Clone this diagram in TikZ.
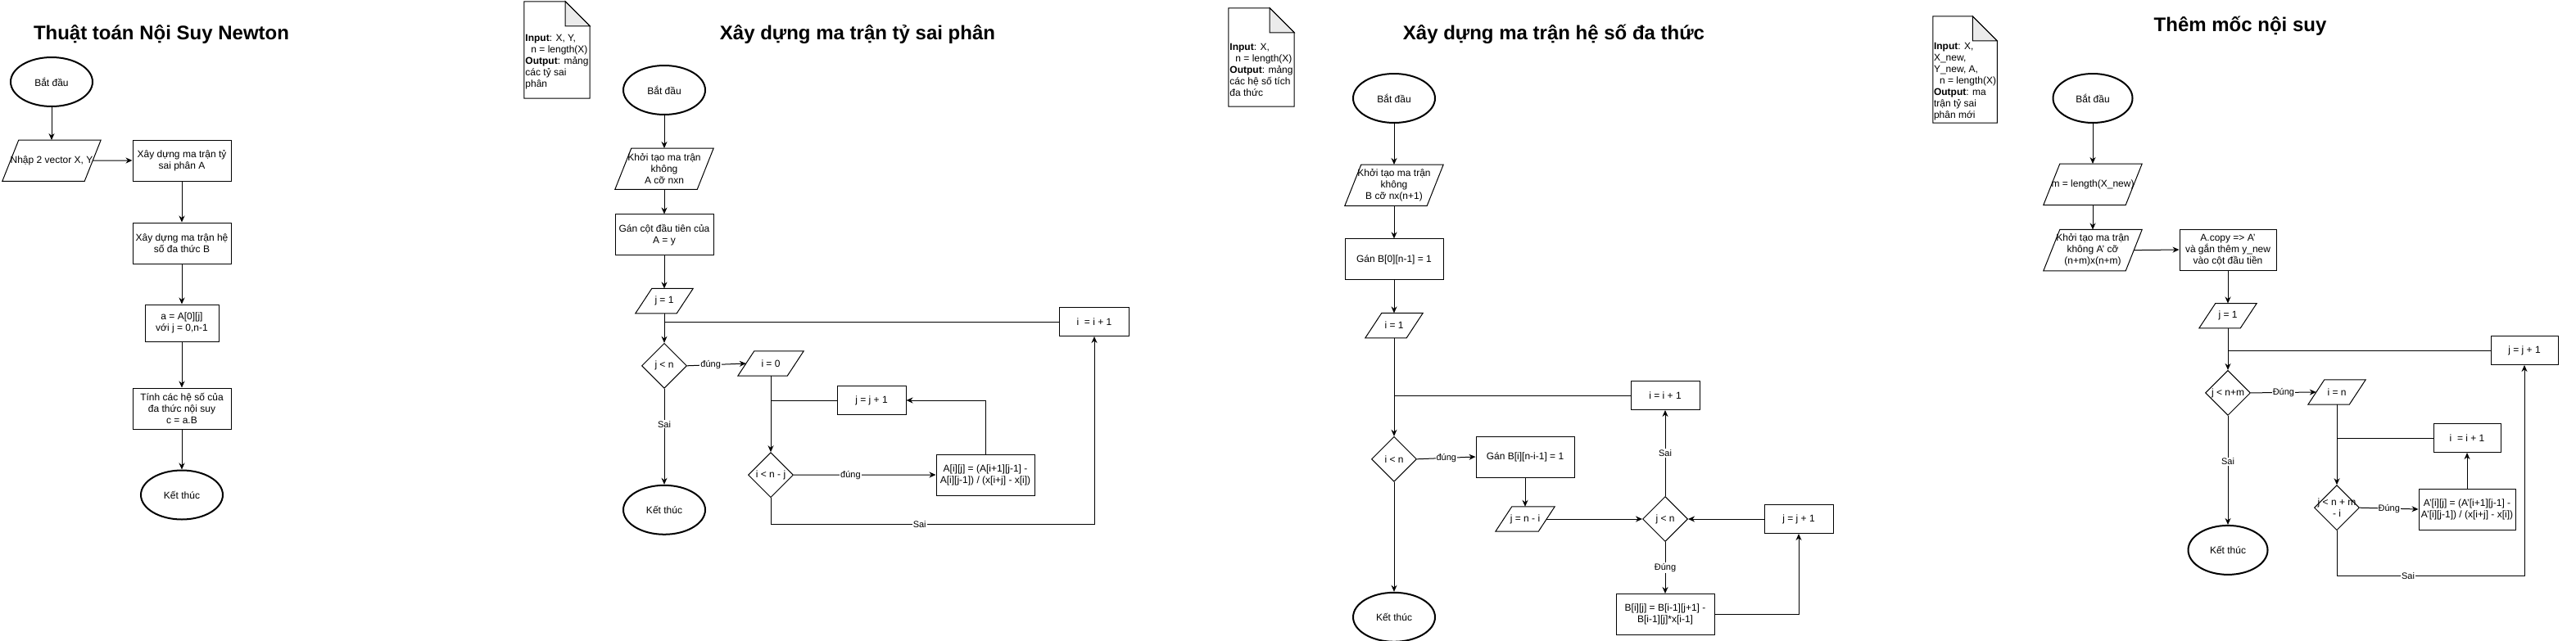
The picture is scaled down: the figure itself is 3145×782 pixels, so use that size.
\documentclass[tikz,border=0pt]{standalone}
\usepackage{fontspec}
\setmainfont{Liberation Sans}
\usetikzlibrary{arrows.meta,positioning,calc,shapes.geometric}
\definecolor{inkblack}{HTML}{000000}
\definecolor{foldfill}{HTML}{EBEBEB}

\begin{document}
\begin{tikzpicture}[
  x=1pt, y=-1pt,
  font=\fontsize{12}{14}\selectfont,
  term/.style    = {ellipse, draw=inkblack, line width=2pt, minimum width=100pt,
                    minimum height=60pt, inner sep=0pt},
  proc/.style    = {rectangle, draw=inkblack, line width=1pt, minimum width=120pt,
                    minimum height=50pt, inner sep=2pt, align=center},
  incbox/.style  = {proc, minimum width=84pt, minimum height=35pt},
  io/.style      = {rectangle, minimum width=120pt, minimum height=50pt, inner sep=0pt,
                    align=center,
                    append after command={\pgfextra{\draw[lnj]
                      ([xshift=20pt]\tikzlastnode.north west) -- (\tikzlastnode.north east)
                      -- ([xshift=-20pt]\tikzlastnode.south east) -- (\tikzlastnode.south west)
                      -- cycle;}}},
  iosm/.style    = {io, minimum width=70pt, minimum height=30pt},
  cond/.style    = {diamond, aspect=1, draw=inkblack, line width=1pt, minimum width=55pt,
                    minimum height=55pt, inner sep=-10pt, align=center},
  notebox/.style = {rectangle, minimum width=80pt, inner sep=1pt, align=left},
  fold/.style    = {draw=inkblack, line width=1pt},
  heading/.style = {font=\fontsize{24}{28}\selectfont\bfseries},
  ln/.style      = {-{Stealth[length=8pt,width=7pt]}, draw=inkblack, line width=1pt},
  lnj/.style     = {draw=inkblack, line width=1pt},
  lbl/.style     = {font=\fontsize{11}{13}\selectfont, fill=white, inner sep=1pt},
]
\useasboundingbox (0,0) rectangle (3145,782);
\fill[white] (0,0) rectangle (3145,782);

% --- Thuat toan Noi Suy Newton ---------------------------------------------------------------------
\node[heading] (title1) at (197,42) {Thuật toán Nội Suy Newton};
\node[term]                      (start1) at (63,100) {Bắt đầu};
\node[io, below=40pt of start1]  (in1)    {Nhập 2 vector X, Y};
\node[proc]                      (tsp1) at (222,196) {Xây dựng ma trận tỷ\\sai phân A};
\node[proc, below=50pt of tsp1]  (hsd1)   {Xây dựng ma trận hệ\\số đa thức B};
\node[proc, below=49pt of hsd1, minimum width=90pt, minimum height=45pt]
                                 (a1)     {a = A[0][j]\\với j = 0,n-1};
\node[proc, below=56pt of a1]    (tinh1)  {Tính các hệ số của\\đa thức nội suy\\c = a.B};
\node[term, below=49pt of tinh1] (end1)   {Kết thúc};

\draw[ln] (start1.south) -- (in1.north);
\draw[ln] ([xshift=-10pt]in1.east) -- (tsp1.west);
\draw[ln] (tsp1.south) -- (hsd1.north);
\draw[ln] (hsd1.south) -- (a1.north);
\draw[ln] (a1.south) -- (tinh1.north);
\draw[ln] (tinh1.south) -- (end1.north);

% --- Xay dung ma tran ty sai phan ------------------------------------------------------------------
\node[notebox, minimum height=88pt] (note2) at (680,76)
  {\textbf{Input}: X, Y,\\\hspace*{7pt}n = length(X)\\\textbf{Output}: mảng\\các tỷ sai\\phân};
\draw[fold] (note2.south west) -- ([yshift=30pt]note2.north west)
  -- ([xshift=-30pt,yshift=30pt]note2.north east) -- (note2.north east) -- (note2.south east) -- cycle;
\filldraw[fold, fill=foldfill] ([xshift=-30pt,yshift=30pt]note2.north east)
  -- ([xshift=-30pt]note2.north east) -- (note2.north east) -- cycle;

\node[heading] (title2) at (1047,42) {Xây dựng ma trận tỷ sai phân};
\node[term]                       (start2) at (811,110) {Bắt đầu};
\node[io,   below=40pt of start2] (khoi2)  {Khởi tạo ma trận\\không\\A cỡ nxn};
\node[proc, below=30pt of khoi2]  (gan2)   {Gán cột đầu tiên của\\A = y};
\node[iosm, below=40pt of gan2]   (j2)     {j = 1};
\node[cond, below=36pt of j2]     (cj2)    {j < n};
\node[term, below=117pt of cj2]   (end2)   {Kết thúc};
\node[iosm, minimum width=80pt]   (i02) at (941,444) {i = 0};
\node[cond, below=93pt of i02]    (ci2)    {i < n - j};
\node[proc]                       (calc2) at (1203,580) {A[i][j] = (A[i+1][j-1] -\\A[i][j-1]) / (x[i+j] - x[i])};
\node[incbox]                     (jj2) at (1064,489) {j = j + 1};
\node[incbox, minimum width=85pt] (ii2) at (1336,393) {i\ \ = i + 1};

\draw[ln] (start2.south) -- (khoi2.north);
\draw[ln] (khoi2.south) -- (gan2.north);
\draw[ln] (gan2.south) -- (j2.north);
\draw[ln] (j2.south) -- (cj2.north);
\draw[lnj] (ii2.west) -- (ii2.west -| cj2.north);
\draw[ln] (cj2.east) -- node[lbl, pos=0.4] {đúng} ([xshift=10pt]i02.west);
\draw[ln] (i02.south) -- (ci2.north);
\draw[lnj] (jj2.west) -- (jj2.west -| ci2.north);
\draw[ln] (ci2.east) -- node[lbl, pos=0.4] {đúng} (calc2.west);
\draw[ln] (calc2.north) |- (jj2.east);
\draw[ln] (ci2.south) -- ++(0pt,-32pt) -| node[lbl, pos=0.23] {Sai} (ii2.south);
\draw[ln] (cj2.south) -- node[lbl, pos=0.37] {Sai} (end2.north);

% --- Xay dung ma tran he so da thuc ----------------------------------------------------------------
\node[notebox, minimum height=90pt] (note3) at (1540,85)
  {\textbf{Input}: X,\\\hspace*{7pt}n = length(X)\\\textbf{Output}: mảng\\các hệ số tích\\đa thức};
\draw[fold] (note3.south west) -- ([yshift=30pt]note3.north west)
  -- ([xshift=-30pt,yshift=30pt]note3.north east) -- (note3.north east) -- (note3.south east) -- cycle;
\filldraw[fold, fill=foldfill] ([xshift=-30pt,yshift=30pt]note3.north east)
  -- ([xshift=-30pt]note3.north east) -- (note3.north east) -- cycle;

\node[heading] (title3) at (1897,42) {Xây dựng ma trận hệ số đa thức};
\node[term]                         (start3) at (1702,120) {Bắt đầu};
\node[io,   below=50pt of start3]   (khoi3)  {Khởi tạo ma trận\\không\\B cỡ nx(n+1)};
\node[proc, below=40pt of khoi3]    (gan3)   {Gán B[0][n-1] = 1};
\node[iosm, below=40pt of gan3]     (i3)     {i = 1};
\node[cond, below=120pt of i3]      (ci3)    {i < n};
\node[term, below=134pt of ci3]     (end3)   {Kết thúc};
\node[proc]                         (ganb3) at (1862,558) {Gán B[i][n-i-1] = 1};
\node[iosm, minimum width=72pt]     (jni3) at (1862,634) {j = n - i};
\node[cond]                         (cj3) at (2033,634) {j < n};
\node[incbox]                       (ii3) at (2033,483) {i = i + 1};
\node[proc, below=63pt of cj3]      (calc3)  {B[i][j] = B[i-1][j+1] -\\B[i-1][j]*x[i-1]};
\node[incbox]                       (jj3) at (2196,634) {j = j + 1};

\draw[ln] (start3.south) -- (khoi3.north);
\draw[ln] (khoi3.south) -- (gan3.north);
\draw[ln] (gan3.south) -- (i3.north);
\draw[ln] (i3.south) -- (ci3.north);
\draw[lnj] (ii3.west) -- (ii3.west -| ci3.north);
\draw[ln] (ci3.east) -- node[lbl] {đúng} (ganb3.west);
\draw[ln] (ganb3.south) -- (jni3.north);
\draw[ln] ([xshift=-10pt]jni3.east) -- (cj3.west);
\draw[ln] (cj3.north) -- node[lbl] {Sai} (ii3.south);
\draw[ln] (cj3.south) -- node[lbl] {Đúng} (calc3.north);
\draw[ln] (calc3.east) -| (jj3.south);
\draw[ln] (jj3.west) -- (cj3.east);
\draw[ln] (ci3.south) -- (end3.north);

% --- Them moc noi suy ------------------------------------------------------------------------------
\node[notebox, minimum width=78pt, minimum height=100pt] (note4) at (2399,100)
  {\textbf{Input}: X,\\X\_new,\\Y\_new, A,\\\hspace*{7pt}n = length(X)\\\textbf{Output}: ma\\trận tỷ sai\\phân mới};
\draw[fold] (note4.south west) -- ([yshift=30pt]note4.north west)
  -- ([xshift=-30pt,yshift=30pt]note4.north east) -- (note4.north east) -- (note4.south east) -- cycle;
\filldraw[fold, fill=foldfill] ([xshift=-30pt,yshift=30pt]note4.north east)
  -- ([xshift=-30pt]note4.north east) -- (note4.north east) -- cycle;

\node[heading] (title4) at (2735,32) {Thêm mốc nội suy};
\node[term, minimum width=97pt]     (start4) at (2555,120) {Bắt đầu};
\node[io,   below=49pt of start4]   (m4)     {m = length(X\_new)};
\node[io,   below=30pt of m4]       (khoi4)  {Khởi tạo ma trận\\không A' cỡ\\(n+m)x(n+m)};
\node[proc, minimum width=118pt]    (copy4) at (2720,305) {A.copy => A'\\và gắn thêm y\_new\\vào cột đầu tiền};
\node[iosm, below=40pt of copy4]    (j4)     {j = 1};
\node[cond, below=51pt of j4]       (cj4)    {j < n+m};
\node[term, below=133pt of cj4, minimum width=97pt] (end4) {Kết thúc};
\node[iosm]                         (in4) at (2853,479) {i = n};
\node[cond, below=98pt of in4]      (ci4)    {j < n + m\\- i};
\node[proc, minimum width=118pt]    (calc4) at (3012,622) {A'[i][j] = (A'[i+1][j-1] -\\A'[i][j-1]) / (x[i+j] - x[i])};
\node[incbox, minimum width=82pt]   (ii4) at (3012,535) {i\ \ = i + 1};
\node[incbox, minimum width=82pt]   (jj4) at (3082,428) {j = j + 1};

\draw[ln] (start4.south) -- (m4.north);
\draw[ln] (m4.south) -- (khoi4.north);
\draw[ln] ([xshift=-10pt]khoi4.east) -- (copy4.west);
\draw[ln] (copy4.south) -- (j4.north);
\draw[ln] (j4.south) -- (cj4.north);
\draw[lnj] (jj4.west) -- (jj4.west -| cj4.north);
\draw[ln] (cj4.east) -- node[lbl] {Đúng} ([xshift=10pt]in4.west);
\draw[ln] (in4.south) -- (ci4.north);
\draw[lnj] (ii4.west) -- (ii4.west -| ci4.north);
\draw[ln] (ci4.east) -- node[lbl] {Đúng} (calc4.west);
\draw[ln] (calc4.north) -- (ii4.south);
\draw[ln] (ci4.south) -- ++(0pt,-55pt) -| node[lbl, pos=0.19] {Sai} (jj4.south);
\draw[ln] (cj4.south) -- node[lbl, pos=0.42] {Sai} (end4.north);

\end{tikzpicture}
\end{document}
